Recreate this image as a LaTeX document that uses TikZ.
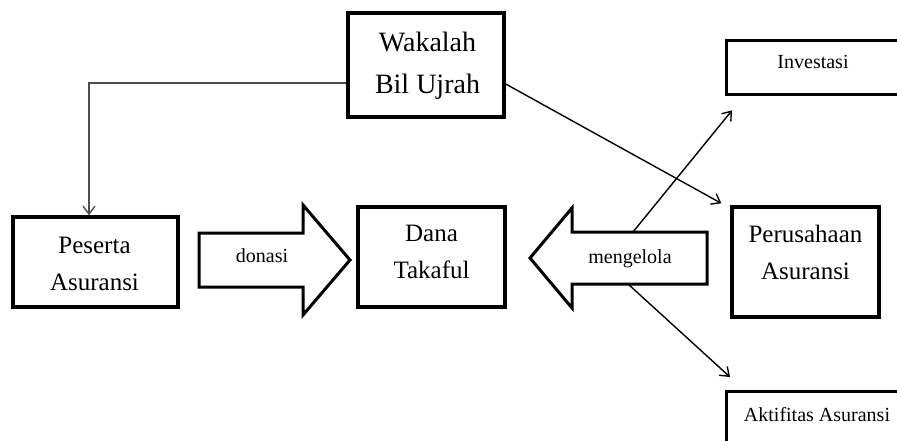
\documentclass[tikz,border=0pt]{standalone}
\usepackage{fontspec}
\setmainfont{Liberation Serif}
\usetikzlibrary{arrows.meta}
\begin{document}
\begin{tikzpicture}[x=1pt,y=-1pt,
  box/.style={draw=black, line width=3.4pt, inner sep=0pt},
  txt/.style={inner sep=0pt, align=center},
  big/.style={font=\fontsize{25}{37}\selectfont},
  huge/.style={font=\fontsize{28}{42}\selectfont},
  small/.style={font=\fontsize{20}{24}\selectfont},
  barrow/.style={draw=black, line width=3pt, line join=miter, fill=white},
  conn/.style={line width=1.4pt, -{Straight Barb[length=8pt,width=12pt]}},
]
\clip (0,0) rectangle (897,441);
\fill[white] (0,0) rectangle (897,441);

% boxes
\node[box, minimum width=156, minimum height=104] (wak) at (426,65) {};
\node[box, minimum width=165, minimum height=90] (pes) at (95.5,262) {};
\node[box, minimum width=147, minimum height=100] (dana) at (431.5,257) {};
\node[box, minimum width=147, minimum height=110] (per) at (805.5,262) {};
\node[box, minimum width=185, minimum height=54, anchor=north west] (inv) at (725,39) {};
\node[box, minimum width=190, minimum height=70, anchor=north west] (akt) at (725,390) {};

% texts
\node[txt,huge] (wakt) at (427.5,66) {Wakalah\\Bil Ujrah};
\node[txt,big] (pest) at (94.5,263.5) {Peserta\\Asuransi};
\node[txt,big] (danat) at (431.5,251.5) {Dana\\Takaful};
\node[txt,big] (pert) at (805.5,252.5) {Perusahaan\\Asuransi};
\node[txt,small] (invt) at (813,62) {Investasi};
\node[txt,small] (aktt) at (817,415) {Aktifitas Asuransi};

% block arrows
\draw[barrow] (199,233) -- (303,233) -- (303,205) -- (350,260) -- (303,315) -- (303,287) -- (199,287) -- cycle;
\node[txt,small] (don) at (262,256) {donasi};

\draw[barrow] (707,232) -- (572,232) -- (572,208) -- (530,258) -- (572,308) -- (572,284) -- (707,284) -- cycle;
\node[txt,small] (men) at (630,259) {mengelola};
\coordinate (mtop) at (633,232);
\coordinate (mbot) at (628,284);

% connectors
\draw[conn, draw=black!70] ([yshift=-18pt]wak.west) -| ([xshift=-6.5pt]pes.north);
\draw[conn] ([yshift=-19pt]wak.east) -- ([xshift=-9pt,yshift=2pt]per.north west);
\draw[conn] (mtop) -- ([xshift=7pt,yshift=-14pt]inv.south west);
\draw[conn] (mbot) -- ([xshift=5pt,yshift=13pt]akt.north west);
\end{tikzpicture}
\end{document}
